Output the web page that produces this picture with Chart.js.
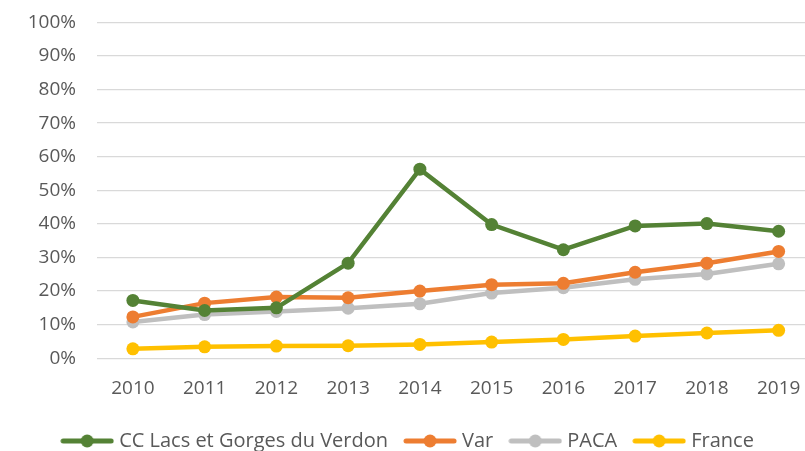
<!DOCTYPE html>
<html>
<head>
<meta charset="utf-8">
<script src="https://cdn.jsdelivr.net/npm/chart.js@4/dist/chart.umd.min.js"></script>
<style>
  html, body { margin: 0; padding: 0; background: #fff; overflow: hidden; }
  #wrap { width: 805px; height: 451px; position: relative; overflow: hidden; }
  #inner { position: absolute; left: 0; top: -10px; width: 821px; height: 471px; }
</style>
</head>
<body>
<div id="wrap"><div id="inner"><canvas id="myLineChart"></canvas></div></div>
<script>
// données (part en %)
const years = ["2010","2011","2012","2013","2014","2015","2016","2017","2018","2019"];
const verdon = [17.2, 14.2, 15.0, 28.3, 56.3, 39.8, 32.3, 39.4, 40.1, 37.8];
const varDep = [12.3, 16.4, 18.2, 18.0, 20.0, 21.9, 22.3, 25.6, 28.3, 31.8];
const paca = [10.8, 13.0, 13.9, 14.9, 16.2, 19.4, 21.0, 23.5, 25.1, 28.1];
const france = [2.8, 3.4, 3.6, 3.7, 4.1, 4.8, 5.6, 6.6, 7.5, 8.3];
const yTicks = [0,10,20,30,40,50,60,70,80,90,100];

const names = ["CC Lacs et Gorges du Verdon", "Var", "PACA", "France"];
const colors = ["#548235", "#ED7D31", "#BFBFBF", "#FFC000"];
const series = [verdon, varDep, paca, france];

// petit marqueur de légende façon Excel : trait + rond
function legendMark(color){
  const c = document.createElement("canvas");
  c.width = 54; c.height = 16;
  const g = c.getContext("2d");
  g.strokeStyle = color;
  g.lineWidth = 5;
  g.lineCap = "round";
  g.beginPath(); g.moveTo(3,8); g.lineTo(51,8); g.stroke();
  g.fillStyle = color;
  g.beginPath(); g.arc(27,8,6.5,0,Math.PI*2); g.fill();
  return c;
}

const txt = "#595959";
const fontFam = "'Open Sans', sans-serif";

var ctx = document.getElementById("myLineChart");
var myChart = new Chart(ctx, {
  type: 'line',
  data: {
    labels: years,
    datasets: series.map(function(d,i){
      return {
        label: names[i],
        data: d,
        borderColor: colors[i],
        backgroundColor: colors[i],
        borderWidth: 4.5,
        pointRadius: 6.5,
        pointHoverRadius: 6.5,
        pointBorderWidth: 0,
        tension: 0,
        fill: false,
        order: i
      };
    })
  },
  options: {
    responsive: true,
    maintainAspectRatio: false,
    animation: false,
    layout: { padding: { top: 3, right: 2, bottom: 0, left: 0 } },
    scales: {
      x: {
        offset: true,
        grid: { display: false },
        border: { display: false },
        ticks: { color: txt, font: { family: fontFam, size: 19 }, padding: 11, maxRotation: 0 }
      },
      y: {
        min: 0,
        max: 100,
        afterFit: function(s){ s.width = 97; },
        afterBuildTicks: function(s){ s.ticks = yTicks.map(function(v){ return {value: v}; }); },
        grid: { color: "#D9D9D9", lineWidth: 1.3, drawTicks: false },
        border: { display: false },
        ticks: {
          color: txt,
          font: { family: fontFam, size: 19 },
          padding: 21,
          callback: function(v){ return v + "%"; }
        }
      }
    },
    plugins: {
      tooltip: { enabled: false },
      legend: {
        position: 'bottom',
        labels: {
          color: txt,
          font: { family: fontFam, size: 20 },
          usePointStyle: true,
          pointStyleWidth: 44,
          padding: 20,
          generateLabels: function(chart){
            return chart.data.datasets.map(function(ds,i){
              return {
                text: ds.label,
                fillStyle: colors[i],
                strokeStyle: colors[i],
                fontColor: txt,
                lineWidth: 0,
                pointStyle: legendMark(colors[i]),
                datasetIndex: i
              };
            });
          }
        }
      }
    }
  }
});
</script>
</body>
</html>
